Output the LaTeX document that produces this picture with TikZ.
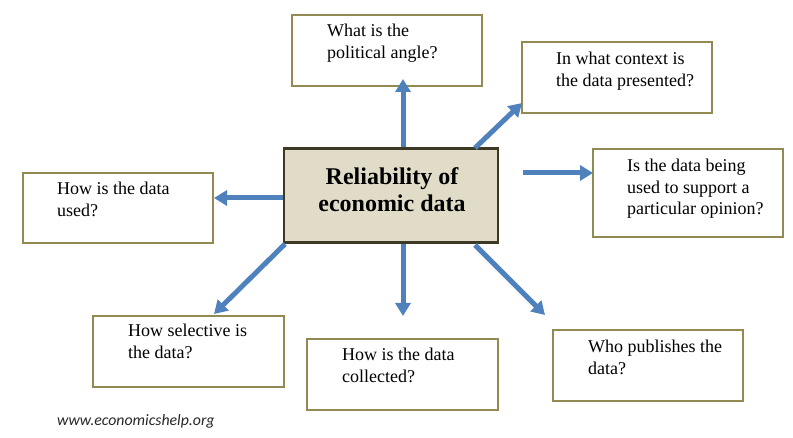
\documentclass[tikz,border=0pt]{standalone}
\usepackage{fontspec}
\setmainfont{Liberation Serif}
\newfontfamily\footfont{Carlito}
\usetikzlibrary{arrows.meta}
\definecolor{boxline}{HTML}{938953}
\definecolor{centerfill}{HTML}{E0DCC8}
\definecolor{centerline}{HTML}{3D3924}
\definecolor{arrowblue}{HTML}{4F81BD}
\tikzset{
  qbox/.style={draw=boxline, line width=2pt, fill=white, minimum width=190pt, inner sep=0pt},
  qtext/.style={anchor=base west, align=left, inner sep=0pt, font=\fontsize{18}{21.5}\selectfont},
  bigarrow/.style={draw=arrowblue, line width=5pt, -{Triangle[width=15pt,length=13pt]}},
}
\begin{document}
\begin{tikzpicture}[x=1pt,y=-1pt]
\useasboundingbox (0,0) rectangle (793,438);
% central box
\node[draw=centerline, line width=2.5pt, fill=centerfill, minimum width=214pt, minimum height=94pt, inner sep=0pt] (c) at (391,195.5) {};
\node[anchor=base, align=center, inner sep=0pt, font=\fontsize{24}{27}\selectfont\bfseries] (ct) at (392,212) {Reliability of\\economic data};
% question boxes (text anchored at the baseline of its last line)
\node[qbox, minimum height=71pt] (t) at (387,50.5) {};
\node[qtext] (tt) at (327,58.5) {What is the\\political angle?};
\node[qbox, minimum height=71pt] (tr) at (617,77.5) {};
\node[qtext] (trt) at (556,86.5) {In what context is\\the data presented?};
\node[qbox, minimum height=88pt] (r) at (688,193) {};
\node[qtext] (rt) at (627,215) {Is the data being\\used to support a\\particular opinion?};
\node[qbox, minimum height=70pt] (l) at (118,208) {};
\node[qtext] (lt) at (57,216.5) {How is the data\\used?};
\node[qbox, minimum width=191pt, minimum height=71pt] (bl) at (188.5,351.5) {};
\node[qtext] (blt) at (128,358.5) {How selective is\\the data?};
\node[qbox, minimum width=191pt, minimum height=71pt] (bm) at (402.5,374.5) {};
\node[qtext] (bmt) at (342,382.5) {How is the data\\collected?};
\node[qbox, minimum height=71pt] (br) at (648,365.5) {};
\node[qtext] (brt) at (588,374.5) {Who publishes the\\data?};
% arrow end points
\coordinate (e1) at (403,79);
\coordinate (s2) at (475,148);
\coordinate (e2) at (522,103);
\coordinate (s3) at (523,173);
\coordinate (e3) at (593,173);
\coordinate (e4) at (214,198);
\coordinate (s5) at (285,244);
\coordinate (e5) at (214,314);
\coordinate (e6) at (403,316);
\coordinate (s7) at (475,245);
\coordinate (e7) at (545,315);
% arrows
\draw[bigarrow] (c.north -| e1) -- (e1);
\draw[bigarrow] (s2) -- (e2);
\draw[bigarrow] (s3) -- (e3);
\draw[bigarrow] (c.west |- e4) -- (e4);
\draw[bigarrow] (s5) -- (e5);
\draw[bigarrow] (c.south -| e6) -- (e6);
\draw[bigarrow] (s7) -- (e7);
% footer
\node[anchor=base west, inner sep=0pt, font=\footfont\itshape\fontsize{15.8}{18}\selectfont, text=black!85] (foot) at (57,425) {www.economicshelp.org};
\end{tikzpicture}
\end{document}
